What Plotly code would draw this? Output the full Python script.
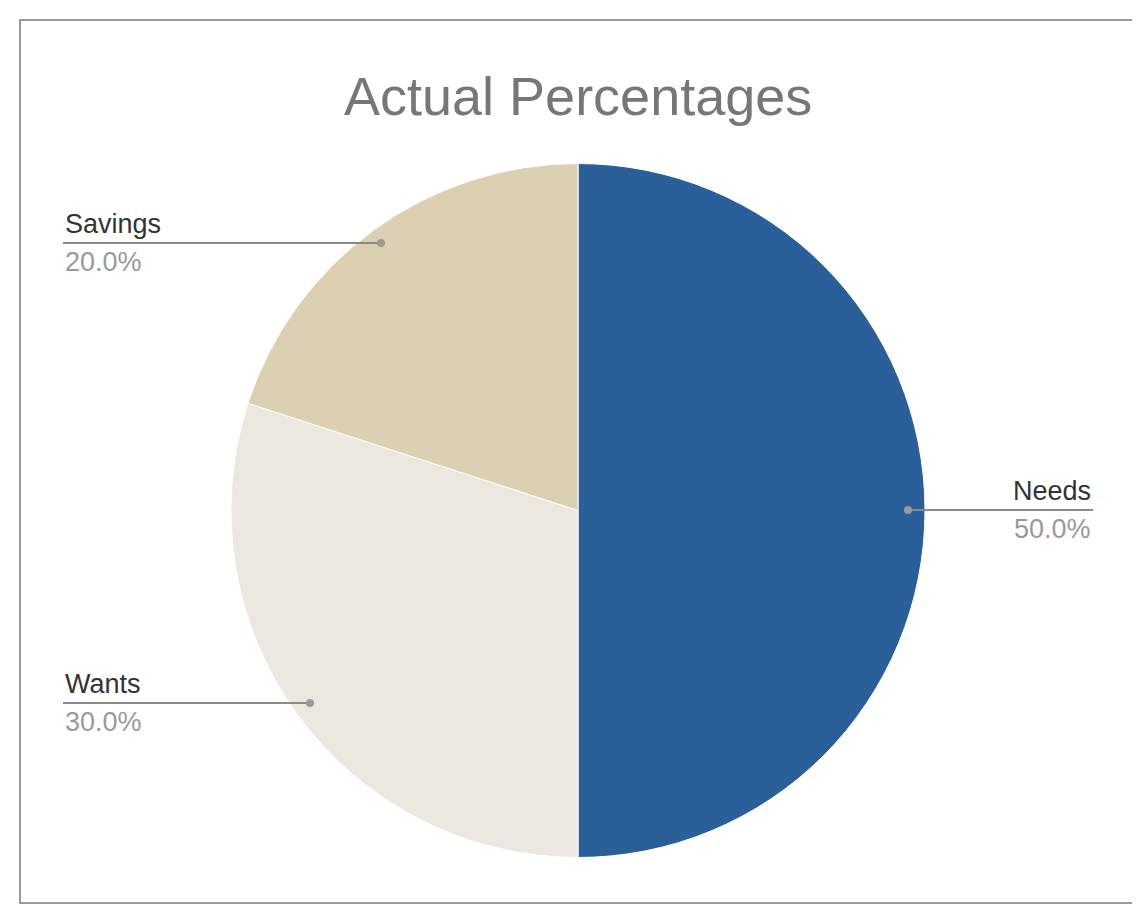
import plotly.graph_objects as go

labels = ["Needs", "Wants", "Savings"]
values = [50, 30, 20]
colors = ["#2a5f9a", "#ebe8e0", "#dcd0b2"]

W, H = 1140, 905


def px(x, y):
    return x / W, 1 - y / H


fig = go.Figure(go.Pie(
    labels=labels, values=values, sort=False, direction="clockwise",
    rotation=0, marker=dict(colors=colors, line=dict(color="white", width=1)),
    textinfo="none", hoverinfo="label+percent", showlegend=False,
    domain=dict(x=[223 / W, 917 / W], y=[1 - 850 / H, 1 - 155 / H]),
))

# leader lines and outside labels (pixel positions of label anchors)
callouts = [
    # label, dot x, dot y, text x0, text x1, align
    ("Savings", 373, 235, 55, 373, "left"),
    ("Wants", 302, 695, 55, 302, "left"),
    ("Needs", 900, 502, 900, 1085, "right"),
]
pct = {l: v / sum(values) * 100 for l, v in zip(labels, values)}
shapes = []
annotations = []
for name, dx, dy, x0, x1, align in callouts:
    a, b = px(x0, dy)
    c, _ = px(x1, dy)
    shapes.append(dict(type="line", xref="paper", yref="paper", x0=a, x1=c, y0=b, y1=b,
                       line=dict(color="#8a8a8a", width=2)))
    cx, cy = px(dx, dy)
    shapes.append(dict(type="circle", xref="paper", yref="paper",
                       x0=cx - 4 / W, x1=cx + 4 / W, y0=cy - 4 / H, y1=cy + 4 / H,
                       fillcolor="#9a9a9a", line=dict(width=0)))
    tx = x0 if align == "left" else x1
    anchor = "left" if align == "left" else "right"
    annotations.append(dict(x=tx / W, y=b, xref="paper", yref="paper", text=name,
                            showarrow=False, xanchor=anchor, yanchor="bottom", yshift=2,
                            font=dict(size=27, color="#333333", family="Arial")))
    annotations.append(dict(x=tx / W, y=b, xref="paper", yref="paper", text=f"{pct[name]:.1f}%",
                            showarrow=False, xanchor=anchor, yanchor="top", yshift=-2,
                            font=dict(size=27, color="#9a9a9a", family="Arial")))

annotations.append(dict(x=0.5, y=1 - 88 / H, xref="paper", yref="paper", text="Actual Percentages",
                        showarrow=False, xanchor="center", yanchor="middle",
                        font=dict(size=54, color="#777777", family="Arial")))

shapes.append(dict(type="rect", xref="paper", yref="paper",
                   x0=12 / W, x1=1128 / W, y0=1 - 895 / H, y1=1 - 12 / H,
                   line=dict(color="#9a9a9a", width=2)))

fig.update_layout(
    width=W, height=H, margin=dict(l=0, r=0, t=0, b=0),
    paper_bgcolor="white", plot_bgcolor="white",
    shapes=shapes, annotations=annotations,
)

fig.write_html("out.html")
